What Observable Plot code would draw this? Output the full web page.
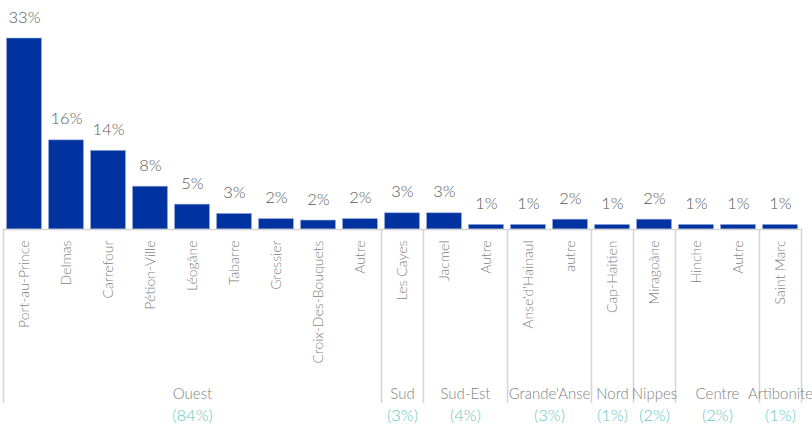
<!DOCTYPE html>
<html>
<head>
<meta charset="utf-8">
<script src="https://cdn.jsdelivr.net/npm/d3@7"></script>
<script src="https://cdn.jsdelivr.net/npm/@observablehq/plot@0.6"></script>
<style>
  html, body { margin: 0; padding: 0; background: #fff; }
  #chart svg { display: block; font-family: Lato, "Open Sans", sans-serif; font-weight: 300; }
</style>
</head>
<body>
<div id="chart"></div>
<script>
const cities = ["Port-au-Prince","Delmas","Carrefour","Pétion-Ville","Léogâne","Tabarre","Gressier","Croix-Des-Bouquets","Autre",
  "Les Cayes","Jacmel","Autre","Anse'd'Hainaul","autre","Cap-Haitien","Miragoâne","Hinche","Autre","Saint Marc"];
const values = [33, 15.4, 13.6, 7.4, 4.3, 2.7, 1.8, 1.55, 1.8, 2.8, 2.8, 0.8, 0.8, 1.7, 0.8, 1.7, 0.8, 0.8, 0.8];
const valueLabels = ["33%","16%","14%","8%","5%","3%","2%","2%","2%","3%","3%","1%","1%","2%","1%","2%","1%","1%","1%"];
const regions = ["Ouest","Sud","Sud-Est","Grande'Anse","Nord","Nippes","Centre","Artibonite"];
const regionCounts = [9, 1, 2, 2, 1, 1, 2, 1];
const regionShares = ["(84%)","(3%)","(4%)","(3%)","(1%)","(2%)","(2%)","(1%)"];

const bars = cities.map((c, i) => ({i, city: c, v: values[i], label: valueLabels[i]}));
let acc = 0;
const groups = regions.map((r, k) => {
  const start = acc; acc += regionCounts[k];
  return {name: r, share: regionShares[k], start, end: acc};
});
const boundaries = [0, ...groups.map(g => g.end)];

const pad = 0.0835;
const grey = "#d4d4d4";

const chart = Plot.plot({
  width: 812,
  height: 433,
  marginLeft: 3,
  marginRight: 11,
  marginTop: 38,
  marginBottom: 204,
  x: {domain: [0, cities.length], axis: null},
  y: {domain: [0, 33], axis: null},
  marks: [
    Plot.rectY(bars, {x1: d => d.i + pad, x2: d => d.i + 1 - pad, y: "v", fill: "#0033a0", stroke: "#9aaede", strokeWidth: 0.6}),
    Plot.ruleY([0], {x1: 0, x2: cities.length, stroke: grey, strokeWidth: 1.5}),
    Plot.ruleX(boundaries, {x: d => d, y1: 0, y2: 0, insetBottom: -174, stroke: grey, strokeWidth: 1.5}),
    Plot.text(bars, {x: d => d.i + 0.5, y: "v", text: "label", dy: -16, lineAnchor: "bottom", fontSize: 16.5, fill: "#595959"}),
    Plot.text(bars, {x: d => d.i + 0.5, y: 0, text: "city", rotate: -90, textAnchor: "end", lineAnchor: "middle", dy: 11, fontSize: 14, fill: "#7f7f7f"}),
    Plot.text(groups, {x: d => (d.start + d.end) / 2, y: 0, text: "name", dy: 165, lineAnchor: "middle", fontSize: 15, fill: "#7f7f7f"}),
    Plot.text(groups, {x: d => (d.start + d.end) / 2, y: 0, text: "share", dy: 186, lineAnchor: "middle", fontSize: 16.5, fill: "#5fc8bd"})
  ]
});
document.getElementById("chart").appendChild(chart);
</script>
</body>
</html>
